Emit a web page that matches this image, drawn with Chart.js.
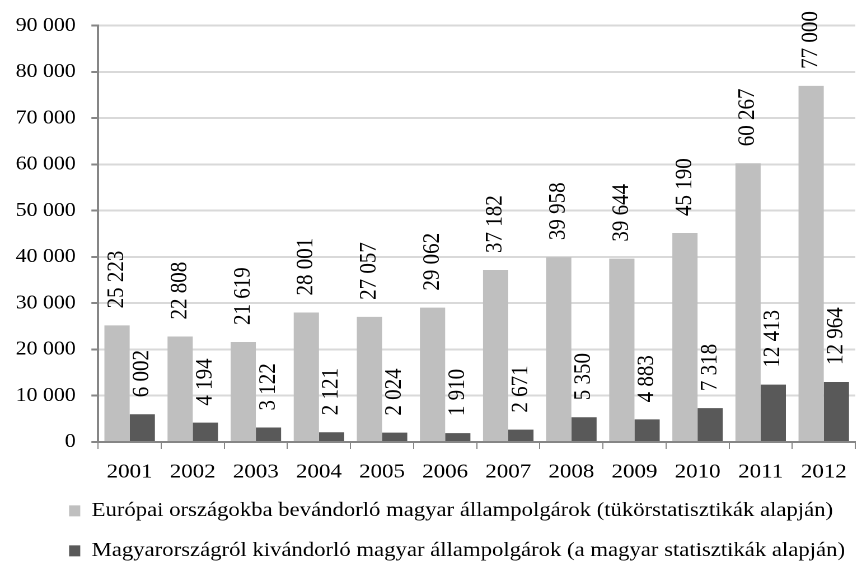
<!DOCTYPE html>
<html>
<head>
<meta charset="utf-8">
<script src="https://cdn.jsdelivr.net/npm/chart.js@4"></script>
<style>
  html, body { margin: 0; padding: 0; background: #fff; overflow: hidden; }
  /* the reference is horizontally stretched, so draw narrower and stretch */
  #wrap { width: 770px; height: 562px; transform: scaleX(1.1195); transform-origin: 0 0; }
</style>
</head>
<body>
<div id="wrap"><canvas id="chart"></canvas></div>
<script>
const years = ["2001", "2002", "2003", "2004", "2005", "2006", "2007", "2008", "2009", "2010", "2011", "2012"];
const immigrants = [25223, 22808, 21619, 28001, 27057, 29062, 37182, 39958, 39644, 45190, 60267, 77000];
const emigrants = [6002, 4194, 3122, 2121, 2024, 1910, 2671, 5350, 4883, 7318, 12413, 12964];
const seriesNames = [
  "Európai országokba bevándorló magyar állampolgárok (tükörstatisztikák alapján)",
  "Magyarországról kivándorló magyar állampolgárok (a magyar statisztikák alapján)"
];

const FONT = "'Liberation Serif', 'Times New Roman', serif";

const fmt = (n) => String(n).replace(/\B(?=(\d{3})+(?!\d))/g, " ");

// rotated value labels above each bar
const barLabels = {
  id: "barLabels",
  afterDatasetsDraw(chart) {
    const ctx = chart.ctx;
    ctx.save();
    ctx.font = "21px " + FONT;
    ctx.fillStyle = "#000";
    ctx.textAlign = "left";
    ctx.textBaseline = "middle";
    chart.data.datasets.forEach((ds, i) => {
      chart.getDatasetMeta(i).data.forEach((bar, j) => {
        ctx.save();
        ctx.translate(bar.x, bar.y - 17);
        ctx.rotate(-Math.PI / 2);
        ctx.fillText(fmt(ds.data[j]), 0, 0);
        ctx.restore();
      });
    });
    ctx.restore();
  }
};

// legend rows sit left-aligned and close under the axis labels, like in Excel
const legendPlace = {
  id: "legendPlace",
  afterLayout(chart) {
    const lg = chart.legend;
    lg.top = chart.scales.x.bottom - 3;
    lg.left = 42;
  }
};

new Chart(document.getElementById("chart"), {
  type: "bar",
  data: {
    labels: years,
    datasets: [
      {
        label: seriesNames[0],
        data: immigrants,
        backgroundColor: "#bfbfbf"
      },
      {
        label: seriesNames[1],
        data: emigrants,
        backgroundColor: "#595959"
      }
    ]
  },
  options: {
    responsive: true,
    maintainAspectRatio: false,
    animation: false,
    devicePixelRatio: 2,
    datasets: {
      bar: { categoryPercentage: 0.8, barPercentage: 1 }
    },
    layout: { padding: { top: 23, right: 6, left: 0, bottom: 0 } },
    scales: {
      x: {
        afterFit: (scale) => { scale.height = 42; },
        grid: {
          drawOnChartArea: false,
          drawTicks: true,
          tickLength: 7,
          color: "#868686"
        },
        border: { color: "#868686", width: 2 },
        ticks: { color: "#000", font: { family: FONT, size: 20.5 }, padding: 11 }
      },
      y: {
        min: 0,
        max: 90000,
        ticks: {
          stepSize: 10000,
          color: "#000",
          font: { family: FONT, size: 19.5 },
          padding: 14,
          callback: (v) => fmt(v)
        },
        grid: { color: "#d9d9d9", lineWidth: 2, tickLength: 6, tickColor: "#868686" },
        border: { color: "#868686", width: 2 }
      }
    },
    plugins: {
      legend: {
        position: "bottom",
        align: "start",
        maxHeight: 78,
        labels: {
          color: "#000",
          font: { family: FONT, size: 20.3 },
          boxWidth: 10,
          boxHeight: 11,
          padding: 19.7
        }
      },
      tooltip: { enabled: false }
    }
  },
  plugins: [barLabels, legendPlace]
});
</script>
</body>
</html>
